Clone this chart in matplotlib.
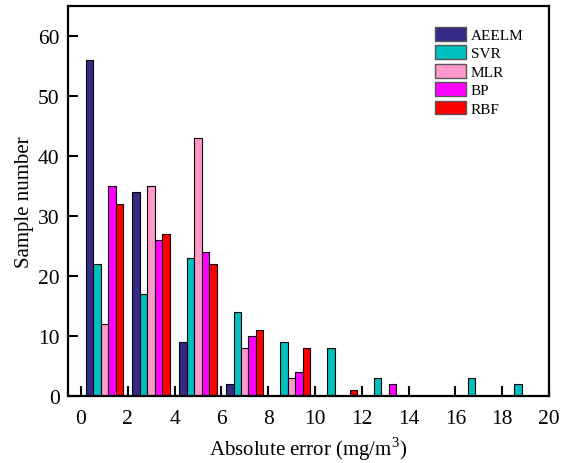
import numpy as np
import matplotlib
matplotlib.use("Agg")
import matplotlib.pyplot as plt

plt.rcParams['font.family'] = ['Liberation Serif', 'DejaVu Serif']
plt.rcParams['mathtext.fontset'] = 'custom'
plt.rcParams['mathtext.rm'] = 'Liberation Serif'

# Histogram bins of absolute error (mg/m^3), width 2
bin_starts = [0, 2, 4, 6, 8, 10, 12, 14, 16, 18]
models = ["AEELM", "SVR", "MLR", "BP", "RBF"]
aeelm = [56, 34, 9, 2, 0, 0, 0, 0, 0, 0]
svr = [22, 17, 23, 14, 9, 8, 3, 0, 3, 2]
mlr = [12, 35, 43, 8, 3, 0, 0, 0, 0, 0]
bp = [35, 26, 24, 10, 4, 0, 2, 0, 0, 0]
rbf = [32, 27, 22, 11, 8, 1, 0, 0, 0, 0]
colors = ["#352a87", "#00bfbf", "#ff99cc", "#ff00ff", "#ff0000"]

series = [aeelm, svr, mlr, bp, rbf]

fig = plt.figure(figsize=(5.62, 4.64), dpi=100)
ax = fig.add_axes([0.121, 0.144, 0.856, 0.841])

bar_w = 0.32
offset0 = 0.2
starts = np.array(bin_starts, dtype=float)
for i, (vals, name, c) in enumerate(zip(series, models, colors)):
    vals = np.array(vals, dtype=float)
    x = starts + offset0 + i * bar_w
    mask = vals > 0
    ax.bar(x[mask], vals[mask], width=bar_w, align='edge', color=c,
           edgecolor='black', linewidth=0.8, label=name)

ax.set_xlim(-0.55, 20)
ax.set_ylim(0, 65)
ax.set_xticks(np.arange(0, 21, 2))
ax.set_yticks(np.arange(0, 61, 10))
ax.tick_params(direction='in', length=7, width=1.5, labelsize=15.5)
ax.tick_params(axis='x', pad=9)
ax.tick_params(axis='y', pad=6)
for s in ax.spines.values():
    s.set_linewidth(1.6)

ax.set_xlabel("Absolute error (mg/m$^3$)", fontsize=15, labelpad=5)
ax.set_ylabel("Sample number", fontsize=15, labelpad=3)

leg = ax.legend(loc='upper left', bbox_to_anchor=(435 / 562, 1 - 28 / 464),
                bbox_transform=fig.transFigure, frameon=False,
                fontsize=11, handlelength=2.05, handleheight=1.0,
                labelspacing=0.22, handletextpad=0.3, borderaxespad=0,
                borderpad=0)
for h in leg.legend_handles:
    h.set_edgecolor('#555555')
    h.set_linewidth(1.0)

fig.savefig("out.png", dpi=100)
